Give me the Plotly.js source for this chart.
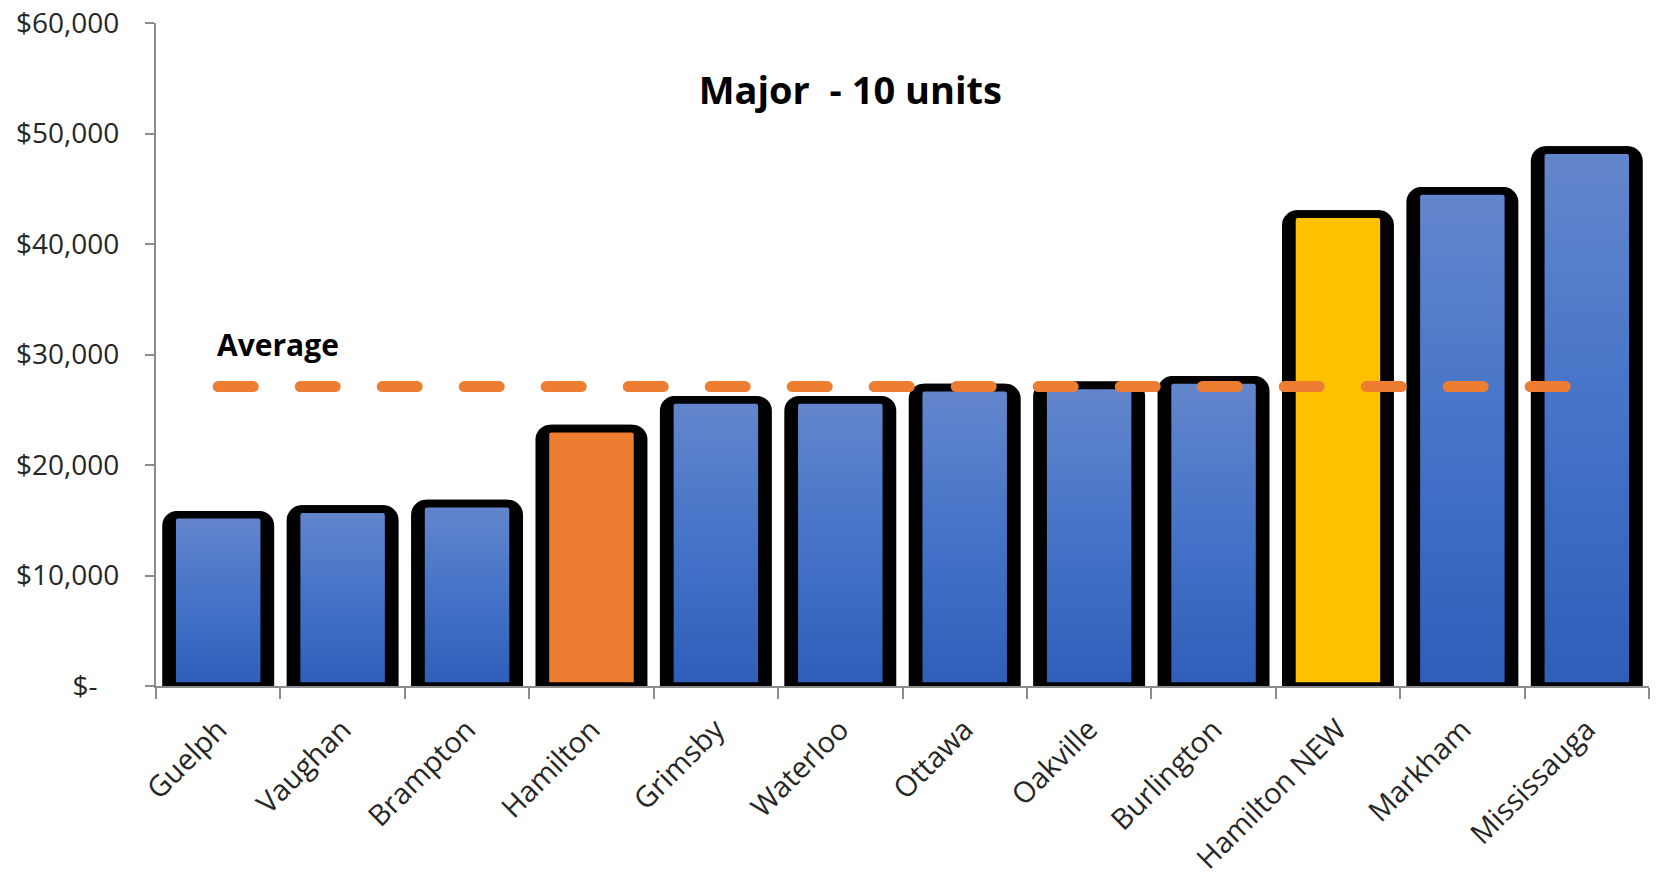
<!DOCTYPE html>
<html>
<head>
<meta charset="utf-8">
<script src="https://cdn.plot.ly/plotly-3.0.1.min.js"></script>
<style>
  html, body { margin: 0; padding: 0; background: #ffffff; }
  #chart { width: 1656px; height: 877px; }
</style>
</head>
<body>
<div id="chart"></div>
<script>
// Development charges, major application of 10 units, by municipality
const categories = ['Guelph', 'Vaughan', 'Brampton', 'Hamilton', 'Grimsby', 'Waterloo',
                    'Ottawa', 'Oakville', 'Burlington', 'Hamilton NEW', 'Markham', 'Mississauga'];
const fees = [15500, 16000, 16500, 23300, 25900, 25900, 27000, 27200, 27700, 42700, 44800, 48500];
const averageFee = 27100;
const yTickValues = [0, 10000, 20000, 30000, 40000, 50000, 60000];
const yTickLabels = ['$-\u00a0\u00a0\u00a0', '$10,000', '$20,000', '$30,000', '$40,000', '$50,000', '$60,000'];

const BLUE = '#4472C4';
const ORANGE = '#ED7D31';
const GOLD = '#FFC000';
const barColors = categories.map(c => c === 'Hamilton' ? ORANGE : (c === 'Hamilton NEW' ? GOLD : BLUE));

const FONT = 'Open Sans, Noto Sans, sans-serif';
const AXIS_GREY = '#8C8C8C';

// thick black frame behind each bar
const frame = {
  type: 'bar', x: categories, y: fees, width: 0.838,
  marker: { color: '#000000', line: { color: '#000000', width: 7.7 }, cornerradius: 11 },
  hoverinfo: 'skip', showlegend: false
};
// coloured body of each bar
const body = {
  type: 'bar', x: categories, y: fees, width: 0.741,
  marker: { color: barColors, line: { color: '#000000', width: 7.7 }, cornerradius: 6 },
  hoverinfo: 'skip', showlegend: false
};
// dashed average line across the municipalities
const avgLine = {
  type: 'scatter', mode: 'lines', x: categories, y: categories.map(() => averageFee),
  line: { color: ORANGE, width: 11, dash: '35px,47px' },
  hoverinfo: 'skip', showlegend: false
};

const layout = {
  width: 1656, height: 877,
  margin: { l: 156, r: 7, t: 23, b: 191, pad: 0 },
  paper_bgcolor: '#ffffff', plot_bgcolor: '#ffffff',
  barmode: 'overlay',
  hovermode: false,
  showlegend: false,
  title: {
    text: 'Major\u00a0 - 10 units',
    font: { family: FONT, size: 38, weight: 700, color: '#000000' },
    xref: 'container', x: 0.5135, xanchor: 'center',
    yref: 'container', y: 0.897, yanchor: 'middle'
  },
  xaxis: {
    type: 'category',
    showgrid: false, zeroline: false,
    showline: true, linecolor: AXIS_GREY, linewidth: 2,
    ticks: 'outside', tickson: 'boundaries', ticklen: 11, tickwidth: 2, tickcolor: AXIS_GREY,
    tickangle: -45,
    tickfont: { family: FONT, size: 29, color: '#262626' },
    ticklabelstandoff: 13
  },
  yaxis: {
    range: [0, 60000],
    showgrid: false, zeroline: false,
    showline: true, linecolor: AXIS_GREY, linewidth: 2,
    ticks: 'outside', ticklen: 9, tickwidth: 2, tickcolor: AXIS_GREY,
    tickvals: yTickValues, ticktext: yTickLabels,
    tickfont: { family: FONT, size: 28, color: '#262626' },
    ticklabelstandoff: 20
  },
  annotations: [{
    text: 'Average', showarrow: false,
    xref: 'paper', x: 0.0395, xanchor: 'left',
    yref: 'y', y: 30900, yanchor: 'middle',
    font: { family: FONT, size: 30, weight: 700, color: '#000000' }
  }]
};

const gd = document.getElementById('chart');
Plotly.newPlot(gd, [frame, body, avgLine], layout, { staticPlot: true, displayModeBar: false }).then(() => {
  // vertical light-to-dark shading for the blue bars
  const svg = gd.querySelector('svg.main-svg');
  const ns = 'http://www.w3.org/2000/svg';
  let defs = svg.querySelector('defs');
  if (!defs) { defs = document.createElementNS(ns, 'defs'); svg.insertBefore(defs, svg.firstChild); }
  const grad = document.createElementNS(ns, 'linearGradient');
  grad.setAttribute('id', 'blueFade');
  grad.setAttribute('x1', '0'); grad.setAttribute('y1', '0');
  grad.setAttribute('x2', '0'); grad.setAttribute('y2', '1');
  [['0', '#6486CC'], ['0.5', '#4473C8'], ['1', '#2E5EB8']].forEach(([o, c]) => {
    const s = document.createElementNS(ns, 'stop');
    s.setAttribute('offset', o); s.setAttribute('stop-color', c);
    grad.appendChild(s);
  });
  defs.appendChild(grad);

  const barTraces = gd.querySelectorAll('.barlayer .trace');
  if (barTraces.length > 1) {
    barTraces[1].querySelectorAll('.point path').forEach((p, i) => {
      if (barColors[i] === BLUE) p.style.fill = 'url(#blueFade)';
    });
  }
  gd.querySelectorAll('.scatterlayer .js-line').forEach(p => { p.style.strokeLinecap = 'round'; });
});
</script>
</body>
</html>
